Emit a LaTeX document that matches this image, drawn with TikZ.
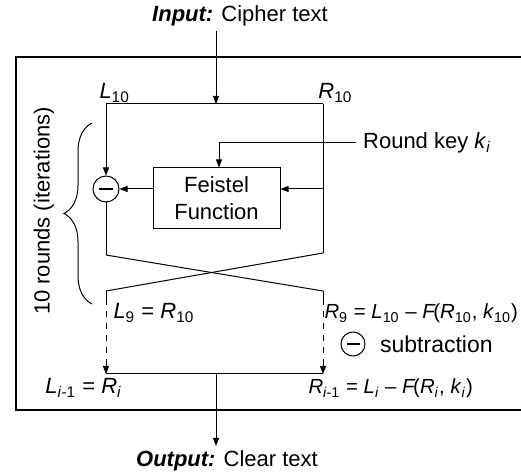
\documentclass[tikz,border=0pt]{standalone}
\usepackage{fontspec}
\setmainfont{Liberation Sans}
\usetikzlibrary{arrows.meta, positioning, calc, decorations.pathreplacing}

\newcommand{\sym}[2]{\textit{#1}\textsubscript{#2}}
\newcommand{\fn}{\textit{F}\kern-1.2pt}

\begin{document}
\begin{tikzpicture}[x=0.5pt, y=-0.5pt, line width=0.5pt,
  font=\fontsize{11}{13.5}\selectfont,
  arrow/.style={->, >={Triangle[length=4pt, width=3pt]}},
  fbox/.style={rectangle, draw, minimum width=63.5pt, minimum height=30.5pt, align=center, inner sep=0pt},
  minus/.style={circle, draw, minimum size=#1, inner sep=0pt},
  minus/.default=13pt,
  lbl/.style={inner sep=0pt, anchor=base west},
  eqn/.style={lbl, font=\fontsize{10.2}{12}\selectfont}
]
  \useasboundingbox (0,0) rectangle (521,476);

  % outer frame
  \draw[line width=1.1pt] (16,57) rectangle (526,410);

  \node (input) at (240,16) {\textbf{\textit{Input:}} Cipher text};
  \node (output) at (227,461) {\textbf{\textit{Output:}} Clear text};

  \coordinate (L10) at (106,104);
  \coordinate (R10) at (323,104);
  \coordinate (topmid) at (216,104);
  \coordinate (inmid) at (216,31);

  \node[minus] (sub) at (106,189) {\rule[-0.7pt]{7pt}{1.4pt}};
  \node[fbox] (feistel) at (216.5,198.5) {Feistel\\Function};
  \node[anchor=west] (key) at (356,143) {Round key \sym{k}{\textit{i}}};
  \coordinate (keyturn) at (219,143);

  \coordinate (L10b) at (106,255);
  \coordinate (R10b) at (323,253);
  \coordinate (L9top) at (106,291);
  \coordinate (R9top) at (323,291);
  \coordinate (L9dash) at (106,299);
  \coordinate (R9dash) at (323,299);
  \coordinate (L9end) at (106,362);
  \coordinate (R9end) at (323,362);
  \coordinate (Lout) at (106,374);
  \coordinate (Rout) at (323,374);
  \coordinate (outmid) at (216,374);
  \coordinate (outend) at (216,446);

  % labels
  \node[lbl] (lblL10) at (99,99) {\sym{L}{10}};
  \node[lbl] (lblR10) at (318,99) {\sym{R}{10}};
  \node[lbl] (lblL9) at (113,319) {\sym{L}{9} = \sym{R}{10}};
  \node[eqn] (lblR9) at (324,319) {\sym{R}{9} = \sym{L}{10} – \fn(\sym{R}{10}, \sym{k}{10})};
  \node[lbl] (lblLi) at (45,394) {\sym{L}{\textit{i}-1} = \sym{R}{\textit{i}}};
  \node[eqn] (lblRi) at (308,394) {\sym{R}{\textit{i}-1} = \sym{L}{\textit{i}} – \fn(\sym{R}{\textit{i}}, \sym{k}{\textit{i}})};
  \node[minus=12pt] (legend) at (353,344) {\rule[-0.7pt]{6.5pt}{1.4pt}};
  \node[anchor=west] (legtext) at (373,344) {\fontsize{11.5}{13}\selectfont subtraction};

  \node[rotate=90] (rounds) at (44,211) {10 rounds (iterations)};
  \draw[decorate, decoration={brace, amplitude=14pt}] (92,304) -- (92,123);

  % one round
  \draw[arrow] (inmid) -- (topmid);
  \draw (L10) -- (R10);
  \draw[arrow] (L10) -- (sub.north);
  \draw (R10) -- (R10b);
  \draw[arrow] (key.west) -- (keyturn) -- (keyturn |- feistel.north);
  \draw[arrow] (R10 |- sub) -- (feistel.east |- sub);
  \draw[arrow] (feistel.west |- sub) -- (sub.east);
  \draw (sub.south) -- (L10b);

  % swap
  \draw (L10b) -- (R9top);
  \draw (R10b) -- (L9top);
  \draw (L9top) -- (L9dash);
  \draw (R9top) -- (R9dash);
  \draw[dashed] (L9dash) -- (L9end);
  \draw[dashed] (R9dash) -- (R9end);
  \draw[arrow] (L9end) -- (Lout);
  \draw[arrow] (R9end) -- (Rout);
  \draw (Lout) -- (Rout);
  \draw[arrow] (outmid) -- (outend);
\end{tikzpicture}
\end{document}
